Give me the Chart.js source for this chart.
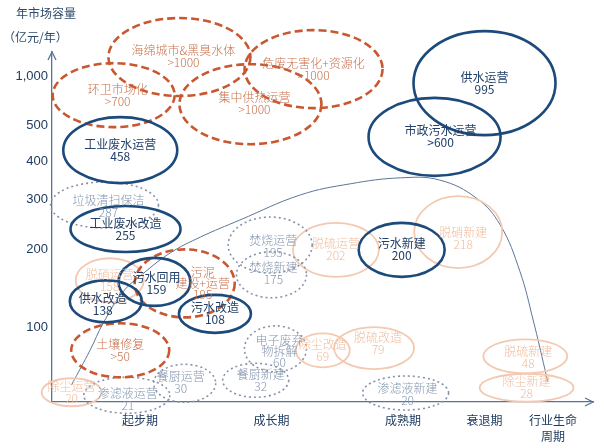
<!DOCTYPE html>
<html lang="zh-CN">
<head>
<meta charset="UTF-8">
<title>环保细分行业生命周期与年市场容量</title>
<script src="https://cdn.jsdelivr.net/npm/chart.js@4.4.1/dist/chart.umd.min.js"></script>
<style>
  html, body { margin: 0; padding: 0; background: #fff; }
  #wrap { width: 604px; height: 448px; }
</style>
</head>
<body>
<div id="wrap"><canvas id="lifeChart" width="604" height="448"></canvas></div>
<script>
// Lifecycle stages (x axis) and capacity ticks (y axis, 亿元/年)
const stageLabels = ['起步期', '成长期', '成熟期', '衰退期', ['行业生命', '周期']];
const stageValues = [1, 2, 3, 3.62, 4.14];
const levelTicks = [100, 200, 300, 400, 500, 1000];

// The y axis is broken: each capacity value maps to a share of the axis height
const breakValues = [0, 100, 200, 300, 400, 500, 1000, 1500];
const breakShares = [0, 0.214, 0.437, 0.58, 0.686, 0.791, 0.931, 1];

// Market segments: name, capacity label, group, lifecycle stage, plotted capacity
const itemNames = [
  '海绵城市&黑臭水体', '危废无害化+资源化', '环卫市场化', '集中供热运营',
  '供水运营', '市政污水运营', '工业废水运营', '垃圾清扫保洁', '工业废水改造',
  '焚烧运营', '焚烧新建', '脱硝运营', '污水回用', '污泥\n建设+运营',
  '供水改造', '污水改造', '土壤修复', '除尘运营', '渗滤液运营', '餐厨运营',
  '餐厨新建', '电子废弃\n物拆解', '除尘改造', '脱硫改造', '渗滤液新建',
  '脱硫运营', '污水新建', '脱硝新建', '脱硫新建', '除尘新建'
];
const itemValues = [
  '>1000', '>1000', '>700', '>1000', '995', '>600', '458', '287', '255',
  '195', '175', '158', '159', '195', '138', '108', '>50', '20', '21', '30',
  '32', '60', '69', '79', '20', '202', '200', '218', '48', '28'
];
// water = 水务, emerging = 新兴领域, solid = 固废, air = 大气
const itemGroup = [
  'emerging', 'emerging', 'emerging', 'emerging', 'water', 'water', 'water', 'solid', 'water',
  'solid', 'solid', 'air', 'water', 'emerging', 'water', 'water', 'emerging', 'air', 'solid', 'solid',
  'solid', 'solid', 'air', 'air', 'solid', 'air', 'water', 'air', 'air', 'air'
];
const itemStage = [
  1.30, 2.32, 0.80, 1.84, 3.62, 3.24, 0.85, 0.73, 0.89,
  1.99, 2.00, 0.77, 1.11, 1.34, 0.74, 1.57, 0.85, 0.48, 0.90, 1.34,
  1.88, 2.03, 2.39, 2.78, 3.02, 2.49, 2.99, 3.42, 3.93, 3.94
];
const itemLevel = [
  1396, 1146, 806, 714, 929, 468, 432, 288, 240,
  208, 167, 160, 158, 156, 133, 117, 69, 13, 9, 25,
  29, 71, 69, 72, 12, 199, 199, 234, 61, 19
];

// Lifecycle curve
const curveStage = [0.48, 0.62, 0.72, 0.87, 1.02, 1.23, 1.46, 1.76, 2.22, 2.60, 2.98, 3.28, 3.56, 3.74, 3.89, 3.99, 4.08, 4.10];
const curveLevel = [23, 69, 105, 145, 168, 195, 224, 258, 311, 341, 357, 351, 302, 248, 171, 109, 43, 27];

// ---- drawing config ----
const bubbleSize = [
  [71, 39], [69, 39], [61, 32], [71, 40], [71, 52], [66, 39], [57, 33], [54, 23], [55, 23],
  [42, 28], [35, 23], [34, 22], [36, 24], [50, 34], [36, 21], [36, 19], [49, 27], [30, 14], [43, 18], [31, 19],
  [33, 17], [31, 23], [27, 17], [40, 21], [43, 17], [43, 27], [43, 27], [44, 36], [42, 17], [47, 14]
];
const labelShift = {
  0: [4, -1], 2: [4, 0], 3: [4, -1], 5: [6, 0], 7: [4, 1], 9: [3, 1], 10: [2, -1],
  12: [2, 2], 13: [18, 0], 14: [-3, 3], 18: [1, 4], 19: [-4, -1], 20: [5, 0],
  21: [4, 3], 23: [4, -5], 24: [2, 1], 27: [5, 6], 28: [3, 1]
};
const groupStyle = {
  air:      { stroke: '#f3c9b2', width: 1.8, dash: [],     text: '#f0bc9d', weight: 300 },
  solid:    { stroke: '#8793a9', width: 1.6, dash: [2, 3], text: '#8395ae', weight: 300 },
  emerging: { stroke: '#c9572f', width: 2.6, dash: [8, 4], text: '#c8714c', weight: 300 },
  water:    { stroke: '#1b4a7b', width: 2.6, dash: [],     text: '#23416a', weight: 400 }
};
const drawOrder = ['air', 'solid', 'emerging', 'water'];
const cjkFont = '"Noto Sans CJK SC", "Noto Sans", sans-serif';

function toShare(v) {
  const n = breakValues.length;
  if (v <= breakValues[0]) return breakShares[0];
  for (let i = 1; i < n; i++) {
    if (v <= breakValues[i]) {
      const t = (v - breakValues[i - 1]) / (breakValues[i] - breakValues[i - 1]);
      return breakShares[i - 1] + t * (breakShares[i] - breakShares[i - 1]);
    }
  }
  return breakShares[n - 1];
}
function fromShare(s) {
  for (let i = 1; i < breakShares.length; i++) {
    if (s <= breakShares[i]) {
      const t = (s - breakShares[i - 1]) / (breakShares[i] - breakShares[i - 1]);
      return breakValues[i - 1] + t * (breakValues[i] - breakValues[i - 1]);
    }
  }
  return breakValues[breakValues.length - 1];
}

class BrokenScale extends Chart.LinearScale {
  buildTicks() {
    return levelTicks.map(v => ({ value: v }));
  }
  getPixelForValue(value) {
    return this.getPixelForDecimal(toShare(value));
  }
  getValueForPixel(pixel) {
    return fromShare(this.getDecimalForPixel(pixel));
  }
}
BrokenScale.id = 'broken';
BrokenScale.defaults = Chart.LinearScale.defaults;
Chart.register(BrokenScale);

const ellipsePlugin = {
  id: 'ellipses',
  afterDatasetsDraw(chart) {
    const ctx = chart.ctx;
    const pts = chart.getDatasetMeta(1).data;
    ctx.save();
    drawOrder.forEach(group => {
      const st = groupStyle[group];
      pts.forEach((pt, i) => {
        if (itemGroup[i] !== group) return;
        ctx.beginPath();
        ctx.ellipse(pt.x, pt.y, bubbleSize[i][0], bubbleSize[i][1], 0, 0, Math.PI * 2);
        ctx.setLineDash(st.dash);
        ctx.lineWidth = st.width;
        ctx.strokeStyle = st.stroke;
        ctx.stroke();
      });
    });
    ctx.setLineDash([]);
    ctx.textAlign = 'center';
    ctx.textBaseline = 'middle';
    drawOrder.forEach(group => {
      ctx.font = groupStyle[group].weight + ' 12px ' + cjkFont;
      ctx.fillStyle = groupStyle[group].text;
      pts.forEach((pt, i) => {
        if (itemGroup[i] !== group) return;
        const lines = itemNames[i].split('\n').concat(itemValues[i]);
        const gap = lines.length > 2 ? 11 : 12;
        const shift = labelShift[i] || [0, 0];
        const y0 = pt.y + shift[1] - gap * (lines.length - 1) / 2;
        lines.forEach((txt, k) => ctx.fillText(txt, pt.x + shift[0], y0 + k * gap));
      });
    });
    ctx.restore();
  },
  afterDraw(chart) {
    const { ctx, chartArea: a } = chart;
    ctx.save();
    // axis arrow heads
    ctx.strokeStyle = '#557597';
    ctx.lineWidth = 1.3;
    ctx.beginPath();
    ctx.moveTo(a.left - 4, a.top + 8); ctx.lineTo(a.left, a.top); ctx.lineTo(a.left + 4, a.top + 8);
    ctx.moveTo(a.right - 8, a.bottom - 4); ctx.lineTo(a.right, a.bottom); ctx.lineTo(a.right - 8, a.bottom + 4);
    ctx.stroke();
    // y axis title
    ctx.fillStyle = '#2b4a6c';
    ctx.font = '12px ' + cjkFont;
    ctx.textBaseline = 'middle';
    ctx.textAlign = 'left';
    ctx.fillText('年市场容量', 16, 13);
    ctx.fillText('（亿元/年）', 3, 37);
    ctx.restore();
  }
};

const curvePoints = curveStage.map((s, i) => ({ x: s, y: curveLevel[i] }));
const itemPoints = itemStage.map((s, i) => ({ x: s, y: itemLevel[i] }));

new Chart(document.getElementById('lifeChart'), {
  type: 'scatter',
  data: {
    datasets: [
      {
        label: '生命周期曲线',
        data: curvePoints,
        showLine: true,
        borderColor: '#5a7698',
        borderWidth: 1,
        tension: 0.4,
        pointRadius: 0,
        clip: false
      },
      {
        label: '细分市场',
        data: itemPoints,
        pointRadius: 0,
        pointHoverRadius: 0,
        clip: false
      }
    ]
  },
  options: {
    responsive: false,
    animation: false,
    layout: { padding: { top: 52, right: 11, left: 0, bottom: 0 } },
    plugins: {
      legend: { display: false },
      tooltip: { enabled: false },
      title: { display: false }
    },
    scales: {
      x: {
        type: 'linear',
        min: 0.331,
        max: 4.445,
        grid: { display: false, drawTicks: false },
        border: { display: true, color: '#557597', width: 1.3 },
        afterBuildTicks: scale => { scale.ticks = stageValues.map(v => ({ value: v })); },
        afterFit: scale => { scale.height = 46; },
        ticks: {
          autoSkip: false,
          maxRotation: 0,
          padding: 10,
          color: '#1f3b60',
          font: { size: 12, family: cjkFont, lineHeight: 1.35 },
          callback: value => stageLabels[stageValues.indexOf(value)]
        }
      },
      y: {
        type: 'broken',
        min: 0,
        max: 1500,
        grid: { display: false, drawTicks: false },
        border: { display: true, color: '#557597', width: 1.3 },
        afterFit: scale => { scale.width = 52; },
        ticks: {
          autoSkip: false,
          padding: 4,
          color: '#1f3b60',
          font: { size: 13, family: '"Liberation Sans", Arial, sans-serif' },
          callback: value => value.toLocaleString('en-US')
        }
      }
    }
  },
  plugins: [ellipsePlugin]
});
</script>
</body>
</html>
